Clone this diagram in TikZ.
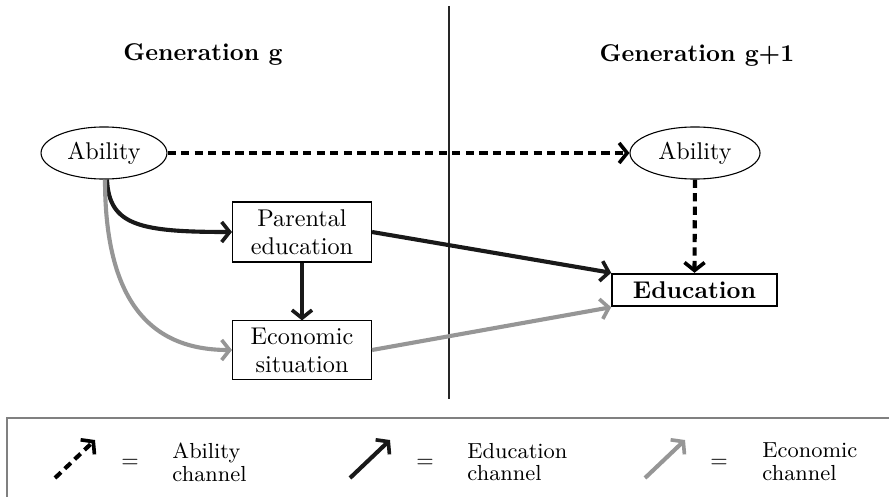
\documentclass[tikz,border=0pt]{standalone}
\usetikzlibrary{arrows.meta,calc,shapes.geometric}
\definecolor{chgray}{RGB}{150,150,150}
\definecolor{boxgray}{RGB}{128,128,128}
\begin{document}
\begin{tikzpicture}[x=0.413pt,y=-0.413pt,
  chtip/.style={-{Straight Barb[length=3.3pt,width=8.3pt,line width=1.5pt]}},
  abil/.style={chtip,line width=1.7pt,dash pattern=on 3.4pt off 2.2pt},
  educ/.style={chtip,line width=1.7pt,draw=black!90},
  econ/.style={chtip,line width=1.7pt,draw=chgray},
  ellnode/.style={ellipse,draw,line width=0.45pt,minimum height=21.5pt,inner sep=0pt,font=\fontsize{10}{12}\selectfont},
  boxnode/.style={rectangle,draw,line width=0.45pt,minimum width=57.4pt,minimum height=24.8pt,inner sep=1pt,align=center,font=\fontsize{10}{11.5}\selectfont},
  title/.style={font=\fontsize{10}{12}\selectfont\bfseries},
  legtext/.style={anchor=west,align=left,inner sep=0pt,font=\fontsize{9}{9.4}\selectfont},
  eqsign/.style={font=\fontsize{9}{10}\selectfont}]
\useasboundingbox (0,0) rectangle (889,497);
\clip (0,0) rectangle (889,497);
% separator
\draw[line width=0.85pt,draw=black!85] (449,6) coordinate (sepT) -- (449,399) coordinate (sepB);
% titles
\node[title] (tg) at (203,54) {Generation g};
\node[title] (tg1) at (697,55) {Generation g+1};
% nodes
\node[ellnode,minimum width=52pt] (ab1) at (104,153) {Ability};
\node[ellnode,minimum width=53.7pt] (ab2) at (695,153) {Ability};
\node[boxnode] (par) at (302,232) {Parental\\education};
\node[boxnode,minimum height=24pt] (eco) at (302,350) {Economic\\situation};
\node[rectangle,draw,line width=0.8pt,minimum width=68pt,minimum height=13.4pt,inner sep=0pt,font=\fontsize{10}{12}\selectfont\bfseries] (edu) at (694.5,290) {Education};
% connectors
\draw[abil] (ab1.east) -- (ab2.west);
\draw[abil] (ab2.south) -- (edu.north);
\draw[educ] ($(ab1.south)+(3,0)$) .. controls +(2,46) and +(-92,0) .. (par.west);
\draw[econ] ($(ab1.south)+(1,0)$) .. controls +(0,121) and +(-82,0) .. (eco.west);
\draw[educ] (par.south) -- (eco.north);
\draw[educ] (par.east) -- (edu.north west);
\draw[econ] (eco.east) -- (edu.south west);
% legend
\draw[line width=0.45pt,draw=boxgray] (7,520) coordinate (lgBL) -- (7,418) coordinate (lgTL) -- (900,418) coordinate (lgTR);
\coordinate (l1a) at (55,478); \coordinate (l1b) at (95,440);
\coordinate (l2a) at (350,478); \coordinate (l2b) at (390,440);
\coordinate (l3a) at (645,478); \coordinate (l3b) at (685,440);
\draw[abil] (l1a) -- (l1b);
\draw[educ] (l2a) -- (l2b);
\draw[econ] (l3a) -- (l3b);
\node[eqsign] (eq1) at (130,463) {=};
\node[eqsign] (eq2) at (425,463) {=};
\node[eqsign] (eq3) at (719,463) {=};
\node[legtext] (t1) at (172,462) {Ability\\channel};
\node[legtext] (t2) at (467,462) {Education\\channel};
\node[legtext] (t3) at (762,462) {Economic\\channel};
\end{tikzpicture}
\end{document}
